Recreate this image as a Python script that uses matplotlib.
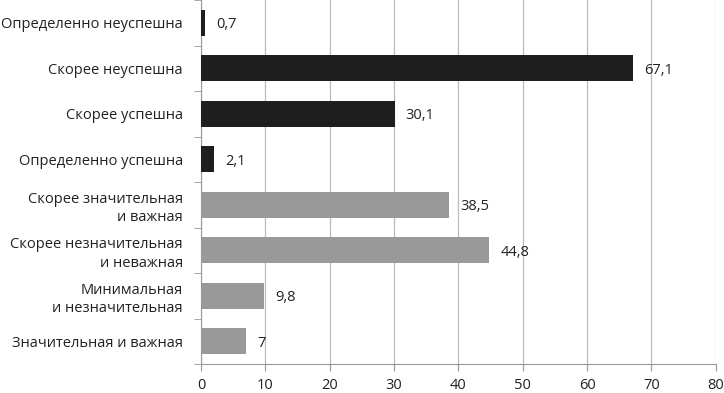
import matplotlib.pyplot as plt
import numpy as np

plt.rcParams['font.family'] = ['Open Sans', 'DejaVu Sans']

categories = ['Определенно неуспешна', 'Скорее неуспешна', 'Скорее успешна',
              'Определенно успешна', 'Скорее значительная\nи важная',
              'Скорее незначительная\nи неважная', 'Минимальная\nи незначительная',
              'Значительная и важная']
values = [0.7, 67.1, 30.1, 2.1, 38.5, 44.8, 9.8, 7]
labels = ['0,7', '67,1', '30,1', '2,1', '38,5', '44,8', '9,8', '7']
colors = ['#1e1e1e'] * 4 + ['#999999'] * 4

fig = plt.figure(figsize=(7.24, 3.93), dpi=100)
ax = fig.add_axes([0.2776, 0.0738, 0.711, 0.926])

y = np.arange(len(categories))
ax.barh(y, values, height=0.57, color=colors, zorder=3)
for yi, v, lab in zip(y, values, labels):
    ax.annotate(lab, (v, yi), xytext=(8, 0), textcoords='offset points',
                va='center_baseline', ha='left', fontsize=10.5, color='#222222')

ax.set_ylim(len(categories) - 0.5, -0.5)
ax.set_xlim(0, 80)
ax.set_xticks(np.arange(0, 81, 10))
ax.set_yticks(y)
ax.set_yticklabels(categories, fontsize=10.5, color='#222222', linespacing=1.3)
ax.set_yticks(np.arange(-0.5, len(categories), 1), minor=True)
ax.tick_params(axis='y', which='major', length=0, pad=13)
ax.tick_params(axis='y', which='minor', length=5, color='#999999')
ax.tick_params(axis='x', length=5, color='#999999', labelsize=10.5, labelcolor='#222222', pad=5)
ax.grid(axis='x', color='#bbbbbb', linewidth=0.9, zorder=0)

for s in ['top', 'right']:
    ax.spines[s].set_visible(False)
for s in ['left', 'bottom']:
    ax.spines[s].set_color('#999999')

fig.savefig('out.png', dpi=100)
